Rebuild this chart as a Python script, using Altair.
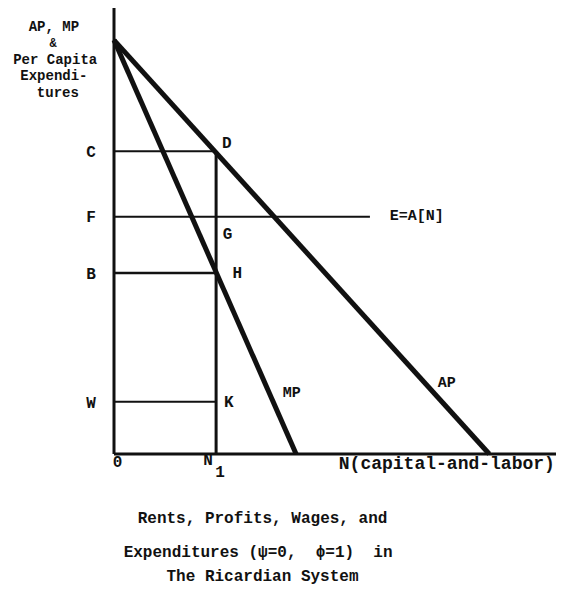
import altair as alt
import pandas as pd

# Line segments (data units: x 0..100, y 0..100)
seg_name = ["x-axis", "y-axis", "AP", "MP", "C-D", "N1-D", "F-E", "B-H", "W-K"]
seg_x = [0, 0, 0, 0, 0, 23.1, 0, 0, 0]
seg_y = [0, 0, 92.8, 92.8, 67.9, 0, 53.2, 40.6, 11.7]
seg_x2 = [100, 0, 84.9, 41.2, 23.1, 23.1, 57.9, 23.1, 23.1]
seg_y2 = [0, 100.2, 0, 0, 67.9, 67.9, 53.2, 40.6, 11.7]
seg_w = [3, 3, 5, 5, 2, 3, 2, 2.5, 2]

NB = "\u00a0"

# Labels
lab_text = ["C", "F", "B", "W", "D", "G", "H", "K", "E=A[N]", "MP", "AP",
            "0", "N", "1", "N(capital-and-labor)",
            "AP, MP", "&", "Per Capita", "Expendi-", "tures",
            "Rents, Profits, Wages, and",
            "Expenditures (ψ=0," + NB + NB + "ϕ=1)" + NB + NB + "in",
            "The Ricardian System"]
lab_x = [-5.2, -5.2, -5.2, -5.2, 25.5, 25.7, 27.9, 26.0, 68.5, 40.2, 75.3,
         0.8, 21.3, 24.0, 75.3,
         -13.6, -13.8, -13.3, -13.6, -12.7,
         33.6, 32.6, 33.6]
lab_y = [67.8, 53.1, 40.4, 11.4, 69.8, 49.3, 40.5, 11.6, 53.6, 13.9, 16.2,
         -1.8, -1.3, -4.0, -2.3,
         95.7, 92.1, 88.3, 84.7, 81.0,
         -14.3, -21.9, -27.4]
lab_size = [16, 16, 16, 16, 16, 16, 16, 16, 15, 15, 15,
            16, 16, 16, 18,
            14, 12, 14, 14, 14,
            16, 16, 16]

segs = pd.DataFrame({"name": seg_name, "x": seg_x, "y": seg_y,
                     "x2": seg_x2, "y2": seg_y2, "w": seg_w})
labs = pd.DataFrame({"t": lab_text, "x": lab_x, "y": lab_y, "s": lab_size})

xs = alt.Scale(domain=[0, 100], nice=False, zero=False)
ys = alt.Scale(domain=[0, 100], nice=False, zero=False)

lines = alt.Chart(segs).mark_rule(color="#111111", strokeCap="butt").encode(
    x=alt.X("x:Q", scale=xs, axis=None),
    x2="x2:Q",
    y=alt.Y("y:Q", scale=ys, axis=None),
    y2="y2:Q",
    strokeWidth=alt.StrokeWidth("w:Q", scale=None),
)

texts = alt.Chart(labs).mark_text(
    font="Liberation Mono", fontWeight="bold", color="#111111",
    align="center", baseline="middle",
).encode(
    x=alt.X("x:Q", scale=xs, axis=None),
    y=alt.Y("y:Q", scale=ys, axis=None),
    text="t:N",
    size=alt.Size("s:Q", scale=None),
)

chart = alt.layer(lines, texts).properties(
    width=442, height=446,
    autosize=alt.AutoSizeParams(type="none"),
    padding={"left": 106, "top": 0, "right": 0, "bottom": 132},
    background="white",
).configure_view(stroke=None)

chart.save("out.html", embed_options={"renderer": "svg", "actions": False})
